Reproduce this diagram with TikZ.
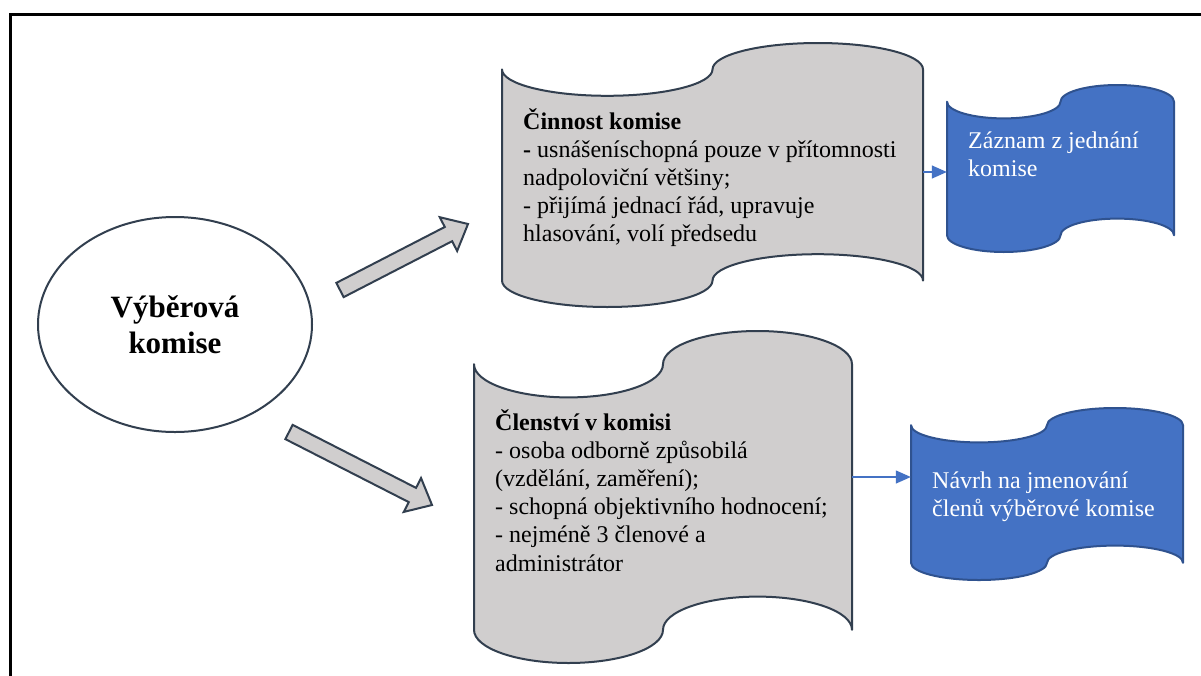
\documentclass[tikz,border=0pt]{standalone}
\usepackage{fontspec}
\setmainfont{Liberation Serif}
\usetikzlibrary{arrows.meta,calc,shapes.geometric}
\definecolor{tapegray}{HTML}{D0CECE}
\definecolor{edgedark}{HTML}{323F4F}
\definecolor{tapeblue}{HTML}{4472C4}
\definecolor{edgeblue}{HTML}{2F528F}
\tikzset{
  graytape/.style={fill=tapegray,draw=edgedark,line width=2pt,line join=round},
  bluetape/.style={fill=tapeblue,draw=edgeblue,line width=2pt,line join=round},
  bodytext/.style={font=\fontsize{24}{28.2}\selectfont,align=left,inner sep=0pt,anchor=base west},
  whitetext/.style={bodytext,text=white},
  conn/.style={draw=tapeblue,line width=1.3pt,-{Triangle[length=15pt,width=13pt]}},
  blockarrow/.style={fill=tapegray,draw=edgedark,line width=2pt,line join=miter},
  framerule/.style={line width=2.5pt,black}
}
% tape box: [style]{name}{x0}{y0}{w}{h}
\newcommand\tapebox[6][]{%
  \pgfmathsetmacro\tbRx{#5/4}%
  \pgfmathsetmacro\tbRy{#6/10}%
  \pgfmathsetmacro\tbYa{#4+#6/10}%
  \pgfmathsetmacro\tbYb{#4+0.9*#6}%
  \pgfmathsetmacro\tbXr{#3+#5}%
  \pgfmathsetmacro\tbCx{#3+#5/2}%
  \pgfmathsetmacro\tbCy{#4+#6/2}%
  \draw[#1] (#3,\tbYa)
    arc[start angle=180,end angle=0,x radius=\tbRx,y radius=\tbRy]
    arc[start angle=180,end angle=360,x radius=\tbRx,y radius=\tbRy]
    -- (\tbXr,\tbYb)
    arc[start angle=360,end angle=180,x radius=\tbRx,y radius=\tbRy]
    arc[start angle=0,end angle=180,x radius=\tbRx,y radius=\tbRy]
    -- cycle;
  \node[inner sep=0pt,minimum width=#5pt,minimum height=#6pt] (#2) at (\tbCx,\tbCy) {};
}
% block arrow between two named coordinates
\newcommand\blockarr[2]{%
  \path ($(#2)!22pt!(#1)$) coordinate (bahead);
  \draw[blockarrow] ($(#1)!8pt!90:(#2)$) -- ($(bahead)!8pt!-90:(#1)$)
    -- ($(bahead)!19pt!-90:(#1)$) -- (#2) -- ($(bahead)!19pt!90:(#1)$)
    -- ($(bahead)!8pt!90:(#1)$) -- ($(#1)!8pt!-90:(#2)$) -- cycle;
}
\begin{document}
\begin{tikzpicture}[x=1pt,y=-1pt]
\useasboundingbox (0,0) rectangle (1201,675);
\fill[white] (0,0) rectangle (1201,675);
% frame
\draw[framerule] (10.3,676) -- (10.3,14.3) -- (1202,14.3);

% central ellipse
\node[ellipse,draw=edgedark,line width=2pt,fill=white,minimum width=274pt,minimum height=215pt,inner sep=0pt,
      align=center,font=\bfseries\fontsize{31}{36}\selectfont] (vk) at (175,324.5) {Výběrová\\komise};

% block arrows
\coordinate (ba1s) at (340,290);
\coordinate (ba1e) at (468,224);
\coordinate (ba2s) at (289,432);
\coordinate (ba2e) at (432,505);
\blockarr{ba1s}{ba1e}
\blockarr{ba2s}{ba2e}

% tape boxes
\tapebox[graytape]{cinnost}{502}{43}{421}{264}
\tapebox[graytape]{clenstvi}{474}{331}{378}{332}
\tapebox[bluetape]{zaznam}{947}{85}{227}{167}
\tapebox[bluetape]{navrh}{911}{408}{272}{172}

% texts (anchored at the baseline of their last line)
\node[bodytext] (t1) at (523,241.8) {\textbf{Činnost komise}\\\textbf{-} usnášeníschopná pouze v přítomnosti\\nadpoloviční většiny;\\- přijímá jednací řád, upravuje\\hlasování, volí předsedu};
\node[bodytext] (t2) at (495,571) {\textbf{Členství v komisi}\\- osoba odborně způsobilá\\(vzdělání, zaměření);\\- schopná objektivního hodnocení;\\- nejméně 3 členové a\\administrátor};
\node[whitetext] (t3) at (968,176.2) {Záznam z jednání\\komise};
\node[whitetext] (t4) at (932,516.2) {Návrh na jmenování\\členů výběrové komise};

% connectors
\coordinate (c1) at (0,172);
\coordinate (c2) at (0,477);
\draw[conn] (cinnost.east |- c1) -- (zaznam.west |- c1);
\draw[conn] (clenstvi.east |- c2) -- (navrh.west |- c2);
\end{tikzpicture}
\end{document}
